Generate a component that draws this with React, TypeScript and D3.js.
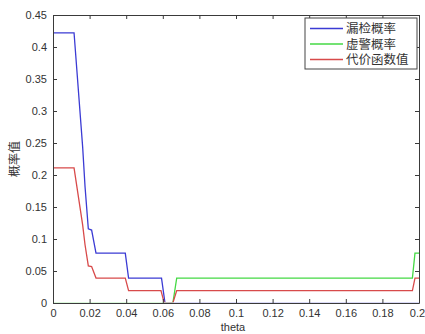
import { useEffect, useRef } from 'react'
import * as d3 from 'd3'

// 漏检概率 (miss probability)
const missTheta = [0, 0.0115, 0.0162, 0.0175, 0.0193, 0.0211, 0.0235, 0.0395, 0.0413, 0.0593, 0.0612, 0.2]
const missValue = [0.4222, 0.4222, 0.244, 0.182, 0.116, 0.114, 0.0778, 0.0778, 0.0389, 0.0389, 0, 0]

// 虚警概率 (false alarm probability)
const faTheta = [0, 0.0655, 0.0676, 0.1964, 0.1978, 0.2]
const faValue = [0, 0, 0.0389, 0.0389, 0.0778, 0.0778]

// 代价函数值 (cost)
const costTheta = [0, 0.0115, 0.0162, 0.0175, 0.0193, 0.0211, 0.0235, 0.0395, 0.0413, 0.059, 0.0608, 0.0655, 0.0676, 0.1964, 0.1978, 0.2]
const costValue = [0.2111, 0.2111, 0.122, 0.091, 0.058, 0.057, 0.0389, 0.0389, 0.0194, 0.0194, 0, 0, 0.0194, 0.0194, 0.0389, 0.0389]

const seriesNames = ['漏检概率', '虚警概率', '代价函数值']
const seriesColors = ['#3b3bd4', '#44d944', '#d84a4a']

const xTicks = [0, 0.02, 0.04, 0.06, 0.08, 0.1, 0.12, 0.14, 0.16, 0.18, 0.2]
const yTicks = [0, 0.05, 0.1, 0.15, 0.2, 0.25, 0.3, 0.35, 0.4, 0.45]

export default function App() {
  const svgRef = useRef<SVGSVGElement>(null)

  useEffect(() => {
    const W = 425
    const H = 334
    const margin = { top: 15, right: 6, bottom: 31, left: 53 }
    const innerW = W - margin.left - margin.right
    const innerH = H - margin.top - margin.bottom

    const x = d3.scaleLinear().domain([0, 0.2]).range([0, innerW])
    const y = d3.scaleLinear().domain([0, 0.45]).range([innerH, 0])

    const svg = d3.select(svgRef.current)
    svg.selectAll('*').remove()
    svg.attr('width', W).attr('height', H)

    svg.append('rect').attr('width', W).attr('height', H).attr('fill', '#fff')

    const g = svg.append('g').attr('transform', `translate(${margin.left},${margin.top})`)

    // lines lying on the x axis are hidden under it, as in the original
    svg.append('defs').append('clipPath').attr('id', 'plot-clip')
      .append('rect')
      .attr('x', -2).attr('y', -2)
      .attr('width', innerW + 4)
      .attr('height', innerH + 2 - 0.7)

    const datasets = [
      { theta: missTheta, value: missValue },
      { theta: faTheta, value: faValue },
      { theta: costTheta, value: costValue },
    ]

    const line = d3.line<[number, number]>()
      .x((d) => x(d[0]))
      .y((d) => y(d[1]))

    const lines = g.append('g').attr('clip-path', 'url(#plot-clip)')
    datasets.forEach((s, i) => {
      const pts = s.theta.map((t, k) => [t, s.value[k]] as [number, number])
      lines.append('path')
        .datum(pts)
        .attr('fill', 'none')
        .attr('stroke', seriesColors[i])
        .attr('stroke-width', 1.3)
        .attr('d', line)
    })

    const axisColor = '#3a3a3a'
    const tickLen = 4
    const fmt = (d: number) => String(+d.toFixed(2))
    const font = 'Liberation Sans, Arial, sans-serif'

    // bottom axis, ticks pointing inward
    g.append('g')
      .attr('transform', `translate(0,${innerH})`)
      .call(d3.axisBottom(x).tickValues(xTicks).tickSizeInner(-tickLen).tickSizeOuter(0).tickPadding(6).tickFormat(fmt as any))
      .call((a) => a.select('.domain').attr('stroke', axisColor))
      .call((a) => a.selectAll('.tick line').attr('stroke', axisColor))
      .call((a) => a.selectAll('text').attr('fill', '#333').attr('font-size', 11).attr('font-family', font))
      .call((a) => a.selectAll('.tick:last-of-type text').attr('dx', -2))

    // top axis
    g.append('g')
      .call(d3.axisTop(x).tickValues(xTicks).tickSizeInner(-tickLen).tickSizeOuter(0).tickFormat(() => ''))
      .call((a) => a.select('.domain').attr('stroke', axisColor))
      .call((a) => a.selectAll('.tick line').attr('stroke', axisColor))

    // left axis
    g.append('g')
      .call(d3.axisLeft(y).tickValues(yTicks).tickSizeInner(-tickLen).tickSizeOuter(0).tickPadding(6).tickFormat(fmt as any))
      .call((a) => a.select('.domain').attr('stroke', axisColor))
      .call((a) => a.selectAll('.tick line').attr('stroke', axisColor))
      .call((a) => a.selectAll('text').attr('fill', '#333').attr('font-size', 11).attr('font-family', font))

    // right axis
    g.append('g')
      .attr('transform', `translate(${innerW},0)`)
      .call(d3.axisRight(y).tickValues(yTicks).tickSizeInner(-tickLen).tickSizeOuter(0).tickFormat(() => ''))
      .call((a) => a.select('.domain').attr('stroke', axisColor))
      .call((a) => a.selectAll('.tick line').attr('stroke', axisColor))

    // axis labels
    svg.append('text')
      .attr('x', 233)
      .attr('y', 331)
      .attr('text-anchor', 'middle')
      .attr('font-size', 11)
      .attr('font-family', font)
      .attr('fill', '#333')
      .text('theta')

    svg.append('text')
      .attr('transform', `translate(19,${margin.top + innerH / 2}) rotate(-90)`)
      .attr('text-anchor', 'middle')
      .attr('font-size', 12)
      .attr('font-family', 'Noto Sans CJK SC, sans-serif')
      .attr('fill', '#333')
      .text('概率值')

    // legend
    const lg = svg.append('g').attr('transform', 'translate(305,18)')
    lg.append('rect')
      .attr('width', 112)
      .attr('height', 51)
      .attr('fill', '#fff')
      .attr('stroke', '#444')
      .attr('stroke-width', 1)
    seriesNames.forEach((name, i) => {
      const cy = 10.5 + i * 15.5
      lg.append('line')
        .attr('x1', 5).attr('x2', 38)
        .attr('y1', cy).attr('y2', cy)
        .attr('stroke', seriesColors[i])
        .attr('stroke-width', 1.3)
      lg.append('text')
        .attr('x', 41)
        .attr('y', cy + 4.5)
        .attr('font-size', 12.5)
        .attr('font-family', 'Noto Sans CJK SC, sans-serif')
        .attr('fill', '#333')
        .text(name)
    })
  }, [])

  return (
    <div style={{ position: 'absolute', left: 0, top: 0 }}>
      <svg ref={svgRef} style={{ display: 'block' }} />
    </div>
  )
}
